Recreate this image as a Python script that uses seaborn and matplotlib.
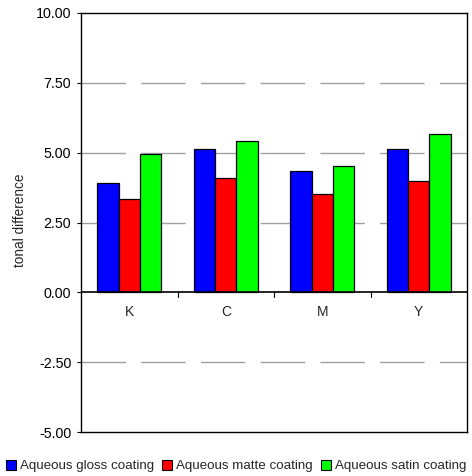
import matplotlib
matplotlib.use("Agg")
import matplotlib.pyplot as plt
import seaborn as sns
import pandas as pd
from matplotlib.patches import Patch

categories = ["K", "C", "M", "Y"]
series = ["Aqueous gloss coating", "Aqueous matte coating", "Aqueous satin coating"]
gloss = [3.91, 5.12, 4.36, 5.12]
matte = [3.35, 4.11, 3.52, 3.98]
satin = [4.97, 5.42, 4.52, 5.68]
colors = ["#0000FF", "#FF0000", "#00FF00"]
yticks = [-5.0, -2.5, 0.0, 2.5, 5.0, 7.5, 10.0]

rows = []
for name, vals in zip(series, [gloss, matte, satin]):
    for c, v in zip(categories, vals):
        rows.append({"category": c, "series": name, "value": v})
df = pd.DataFrame(rows)

sns.set_style("white")
plt.rcParams["font.family"] = ["Liberation Sans", "DejaVu Sans"]

fig = plt.figure(figsize=(4.72, 4.76), dpi=100)
ax = fig.add_axes([81 / 472, 1 - 432 / 476, 386 / 472, 419 / 476])

sns.barplot(data=df, x="category", y="value", hue="series", order=categories,
            hue_order=series, palette=colors, width=0.667, edgecolor="black",
            linewidth=0.9, saturation=1, ax=ax, legend=False, zorder=3)

ax.set_ylim(-5, 10)
ax.set_xlim(-0.5, 3.5)
ax.set_yticks(yticks)
ax.set_yticklabels([f"{t:.2f}" for t in yticks], fontsize=10.3)
ax.tick_params(axis="y", left=True, length=3, width=0.8, pad=4, colors="black")

for t in [-2.5, 2.5, 5.0, 7.5]:
    ax.axhline(t, color="#a0a0a0", lw=1, linestyle=(0, (32, 11)), zorder=1)

# zero line with category boundary ticks
ax.axhline(0, color="black", lw=1.2, zorder=4)
for b in [0.5, 1.5, 2.5]:
    ax.plot([b, b], [0, -0.15], color="black", lw=0.8, zorder=4)

ax.set_xticks([])
for i, c in enumerate(categories):
    ax.text(i, -0.72, c, ha="center", va="center", fontsize=10)

for s in ax.spines.values():
    s.set_visible(True)
    s.set_color("black")
    s.set_linewidth(1.0)

ax.set_xlabel("")
ax.set_ylabel("tonal difference", fontsize=9.8)
ax.yaxis.set_label_coords(-0.14, 0.505)

handles = [Patch(facecolor=col, edgecolor="black", linewidth=0.8, label=s)
           for col, s in zip(colors, series)]
fig.legend(handles=handles, loc="center", bbox_to_anchor=(0.5, 1 - 466 / 476),
           ncol=3, frameon=False, fontsize=9.6, handlelength=0.75, handleheight=0.75,
           handletextpad=0.3, columnspacing=0.6, borderaxespad=0, borderpad=0)

fig.savefig("out.png", dpi=100)
